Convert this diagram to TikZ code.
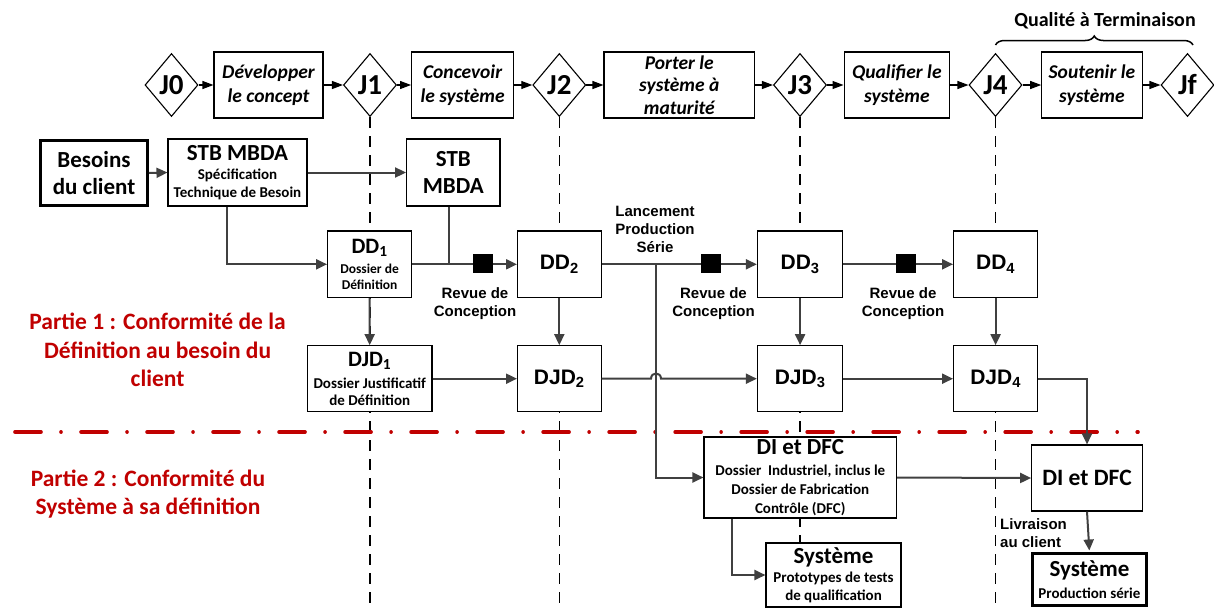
\documentclass[tikz,border=0pt]{standalone}
\usepackage{fontspec}
\setmainfont{Carlito}
\newfontfamily\arialf{Liberation Sans}
\usetikzlibrary{shapes.geometric,arrows.meta,calc,decorations.pathreplacing}
\definecolor{darkred}{HTML}{C00000}
\definecolor{lgray}{HTML}{404040}
\newcommand\fs[2]{\fontsize{#1}{#2}\selectfont}
\pgfdeclarelayer{bg}
\pgfsetlayers{bg,main}
\begin{document}
\begin{tikzpicture}[x=1pt,y=-1pt,
  box/.style={draw=black,fill=white,line width=1.1pt,inner sep=0pt,align=center,font=\bfseries},
  thickbox/.style={box,line width=3pt},
  jal/.style={diamond,draw=black,fill=white,line width=1.1pt,inner sep=0pt,minimum width=53pt,minimum height=63pt,font=\bfseries\fs{29}{30}},
  phase/.style={box,minimum height=66pt,font=\bfseries\itshape\fs{19.5}{23.5}},
  tarr/.style={-{Triangle[length=11pt,width=8pt]},line width=1.1pt,black},
  arr/.style={-{Triangle[length=11pt,width=10pt]},line width=2pt,lgray},
  ln/.style={line width=2pt,lgray},
  jline/.style={line width=1.1pt,black,dash pattern=on 11pt off 8pt},
  lab/.style={font=\arialf\bfseries\fs{15}{18},align=center,inner sep=0pt},
  ddA/.style={box,font=\arialf\bfseries\fs{21}{24}},
  partie/.style={font=\bfseries\fs{23.5}{28.5},text=darkred,align=center,inner sep=0pt},
  sq/.style={fill=black,minimum width=20.4pt,minimum height=19pt,inner sep=0pt}
]
\useasboundingbox (0,0) rectangle (1214,608);
\coordinate (bot) at (0,608);

% top row
\node[jal] (J0) at (171.5,85) {J0};
\node[phase,minimum width=109pt] (P1) at (268.5,85) {Développer\\le concept};
\node[jal] (J1) at (370,85) {J1};
\node[phase,minimum width=102pt] (P2) at (462.6,85) {Concevoir\\le système};
\node[jal] (J2) at (559.3,85) {J2};
\node[phase,minimum width=150.6pt,font=\bfseries\itshape\fs{19.5}{22.5}] (P3) at (679.3,85) {Porter le\\système à\\maturité};
\node[jal] (J3) at (800,85) {J3};
\node[phase,minimum width=105.7pt] (P4) at (896.9,85) {Qualifier le\\système};
\node[jal] (J4) at (995.5,85) {J4};
\node[phase,minimum width=100.3pt] (P5) at (1091.9,85) {Soutenir le\\système};
\node[jal] (Jf) at (1187.5,85) {Jf};

\draw[tarr] (J0.east) -- (P1.west);
\draw[tarr] (P1.east) -- (J1.west);
\draw[tarr] (J1.east) -- (P2.west);
\draw[tarr] (P2.east) -- (J2.west);
\draw[tarr] (J2.east) -- (P3.west);
\draw[tarr] (P3.east) -- (J3.west);
\draw[tarr] (J3.east) -- (P4.west);
\draw[tarr] (P4.east) -- (J4.west);
\draw[tarr] (J4.east) -- (P5.west);
\draw[tarr] (P5.east) -- (Jf.west);

% brace
\coordinate (brL) at (995.5,45);
\coordinate (brR) at (1193,45);
\draw[decorate,decoration={brace,amplitude=9pt},line width=1.5pt] (brL) -- (brR);
\node[font=\bfseries\fs{20}{22},inner sep=0pt] (QT) at (1105,21) {Qualité à Terminaison};

% second row
\node[thickbox,minimum width=107pt,minimum height=65pt,font=\bfseries\fs{23}{27}] (BC) at (94,173) {Besoins\\du client};
\node[box,minimum width=139pt,minimum height=67pt,font=\bfseries\fs{15}{18}] (S1) at (237.5,172.5) {{\fs{23}{24}STB MBDA}\\[1.5pt]Spécification\\Technique de Besoin};
\node[box,minimum width=93.4pt,minimum height=67pt,font=\bfseries\fs{23}{27}] (S2) at (453.3,172.5) {STB\\MBDA};

% DD row
\node[box,minimum width=84pt,minimum height=66.7pt,font=\bfseries\fs{13.5}{15.5}] (DD1) at (369.6,264.3) {{\fs{22}{24}DD\textsubscript{1}}\\[4.5pt]Dossier de\\Définition};
\node[ddA,minimum width=83.5pt,minimum height=66.7pt] (DD2) at (559.3,264.3) {DD\textsubscript{2}};
\node[ddA,minimum width=85.4pt,minimum height=66.7pt] (DD3) at (800.1,264.3) {DD\textsubscript{3}};
\node[ddA,minimum width=84pt,minimum height=66.7pt] (DD4) at (995.6,264.3) {DD\textsubscript{4}};

% DJD row
\node[box,minimum width=124.6pt,minimum height=66pt,font=\bfseries\fs{15}{16.5}] (DJD1) at (369.7,378.7) {{\fs{22}{24}DJD\textsubscript{1}}\\[6pt]Dossier Justificatif\\de Définition};
\node[ddA,minimum width=83.5pt,minimum height=66pt] (DJD2) at (559.3,378.7) {DJD\textsubscript{2}};
\node[ddA,minimum width=85.4pt,minimum height=66pt] (DJD3) at (800.1,378.7) {DJD\textsubscript{3}};
\node[ddA,minimum width=84pt,minimum height=66pt] (DJD4) at (995.6,378.7) {DJD\textsubscript{4}};

% bottom
\node[box,minimum width=192.5pt,minimum height=81pt,font=\bfseries\fs{15}{19}] (DI1) at (800.25,477.5) {{\fs{23}{25}DI et DFC}\\[2pt]Dossier\ \ Industriel, inclus le\\Dossier de Fabrication\\Contrôle (DFC)};
\node[box,minimum width=110.6pt,minimum height=66pt,font=\bfseries\fs{23.5}{26}] (DI2) at (1087,478) {DI et DFC};
\node[box,minimum width=135pt,minimum height=64pt,font=\bfseries\fs{15}{18}] (Sys1) at (833.5,575) {{\fs{23}{24}Système}\\[1pt]Prototypes de tests\\de qualification};
\node[thickbox,minimum width=114.3pt,minimum height=52pt,font=\bfseries\fs{15}{17}] (Sys2) at (1089.4,579.2) {{\fs{23}{24}Système}\\[5pt]Production série};

% labels
\node[lab] (R1) at (475,303.5) {Revue de\\Conception};
\node[lab] (R2) at (713.5,303.5) {Revue de\\Conception};
\node[lab] (R3) at (903,303.5) {Revue de\\Conception};
\node[lab] (LPS) at (655,229) {Lancement\\Production\\Série};
\node[lab,anchor=west,align=left] (LC) at (1000,533.5) {Livraison\\au client};
\node[partie] (PT1) at (157.6,350) {Partie 1 : Conformité de la\\Définition au besoin du\\client};
\node[partie] (PT2) at (148,494) {Partie 2 : Conformité du\\Système à sa définition};

% connectors
\draw[arr] (BC.east) -- (S1.west);
\draw[arr] (S1.east) -- (S2.west);
\draw[arr] ($(S1.south)+(-10.5,0)$) |- (DD1.west);
\draw[ln] ($(S2.south)+(-4,0)$) coordinate (s2b) -- (s2b |- DD1.east);
\draw[arr] (DD1.east) -- (DD2.west);
\draw[arr] (DD2.east) -- (DD3.west);
\draw[arr] (DD3.east) -- (DD4.west);
\node[sq] (sq1) at (483.2,263.5) {};
\node[sq] (sq2) at (710.8,263.5) {};
\node[sq] (sq3) at (906,263.5) {};
\draw[arr] (DD1.south) -- (DJD1.north);
\draw[arr] (DD2.south) -- (DJD2.north);
\draw[arr] (DD3.south) -- (DJD3.north);
\draw[arr] (DD4.south) -- (DJD4.north);
\draw[arr] (DJD1.east) -- (DJD2.west);
\coordinate (L) at (656,264.3);
\draw[arr] (L) |- (DI1.west);
\coordinate (h1) at (651,378.7);
\coordinate (h2) at (661,378.7);
\draw[arr] (DJD2.east) -- (h1) .. controls ($(h1)+(0,-7)$) and ($(h2)+(0,-7)$) .. (h2) -- (DJD3.west);
\draw[arr] (DJD3.east) -- (DJD4.west);
\draw[arr] (DJD4.east) -| (DI2.north);
\draw[arr] (DI1.east) -- (DI2.west);
\draw[arr] ($(DI1.south west)+(29,0)$) |- (Sys1.west);
\draw[arr,shorten >=1.2pt] (DI2.south) -- (Sys2.north);

% background: milestone lines and separator
\begin{pgfonlayer}{bg}
\draw[jline] (J1.south) -- (J1.south |- bot);
\draw[jline] (J2.south) -- (J2.south |- bot);
\draw[jline] (J3.south) -- (J3.south |- bot);
\draw[jline] (J4.south) -- (J4.south |- bot);
\coordinate (redL) at (15,432);
\coordinate (redR) at (1138,432);
\draw[darkred,line width=3.6pt,line cap=round,dash pattern=on 26pt off 20pt on 0.01pt off 20pt] (redL) -- (redR);
\end{pgfonlayer}
\end{tikzpicture}
\end{document}
